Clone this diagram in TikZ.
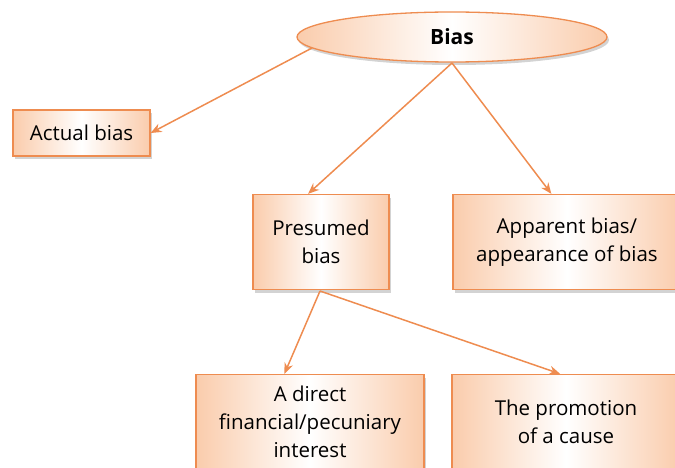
\documentclass[tikz,border=0pt]{standalone}
\usepackage{fontspec}
\setmainfont{Open Sans}
\usetikzlibrary{shapes.geometric,shadows,arrows.meta}
\definecolor{peach}{RGB}{250,204,172}
\definecolor{edgeor}{RGB}{238,140,80}
\begin{document}
\begin{tikzpicture}[x=1pt,y=-1pt,
  box/.style={draw=edgeor, line width=1.3pt, left color=peach, right color=peach,
    middle color=white, drop shadow={shadow xshift=2pt,shadow yshift=-3pt,opacity=0.35},
    align=center, font=\fontsize{20.5}{28}\selectfont, inner sep=0pt},
  link/.style={draw=edgeor, line width=1.5pt, -{Stealth[length=11pt,width=9pt]}}]
\useasboundingbox (0,0) rectangle (675,468);
\clip (0,0) rectangle (675,468);

%上層：橢圓與實際偏見
\node[box, ellipse, minimum width=310pt, minimum height=50pt,
  font=\fontsize{21}{28}\selectfont\bfseries] (Bias) at (452,37) {Bias};
\node[box, minimum width=137pt, minimum height=46pt] (Actual) at (81.5,133) {Actual bias};

%中層
\node[box, minimum width=136pt, minimum height=95pt] (Presumed) at (321,242) {Presumed\\bias};
\node[box, minimum width=228pt, minimum height=95pt] (Apparent) at (567,242) {Apparent bias/\\appearance of bias};

%下層
\node[box, minimum width=228pt, minimum height=95pt] (Direct) at (310,422) {A direct\\financial/pecuniary\\interest};
\node[box, minimum width=228pt, minimum height=95pt] (Cause) at (566,422) {The promotion\\of a cause};

\coordinate (B1) at (312,48);
\coordinate (B2) at (452,63);
\coordinate (P1) at (320,291);

\foreach \s/\t in {B1/Actual.east, B2/Presumed.105, B2/Apparent.108, P1/Direct.118, P1/Cause.97}
{
  \draw[link] (\s) -- (\t);
};
\end{tikzpicture}
\end{document}
